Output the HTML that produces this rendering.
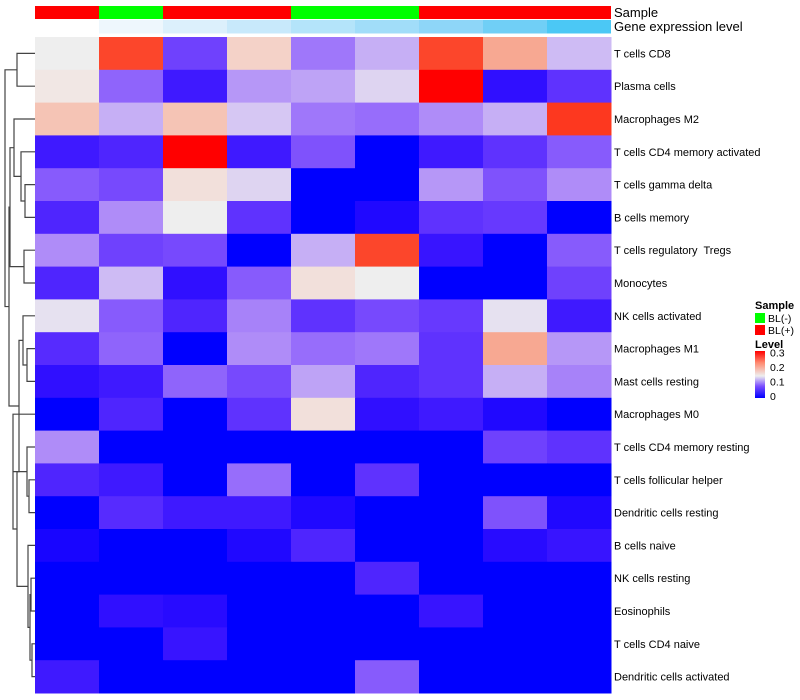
<!DOCTYPE html>
<html><head><meta charset="utf-8"><style>
body{margin:0;background:#fff;}
svg{display:block;font-family:"Liberation Sans",sans-serif;}
text{white-space:pre;}
</style></head><body>
<svg id="chart" width="800" height="700"></svg>
<script>
const rowLabels=["T cells CD8","Plasma cells","Macrophages M2","T cells CD4 memory activated","T cells gamma delta","B cells memory","T cells regulatory  Tregs","Monocytes","NK cells activated","Macrophages M1","Mast cells resting","Macrophages M0","T cells CD4 memory resting","T cells follicular helper","Dendritic cells resting","B cells naive","NK cells resting","Eosinophils","T cells CD4 naive","Dendritic cells activated"];
const sampleGroups=["BL(+)","BL(-)","BL(+)","BL(+)","BL(-)","BL(-)","BL(+)","BL(+)","BL(+)"];
const geneLevelColors=["#ffffff","#eef7fd","#dcf0fc","#c8e9fb","#b4e4fa","#a1ddf9","#8ed6f8","#70cff6","#4bc8f5"];
const values=[
[.15,.27,.07,.17,.10,.125,.27,.20,.13],
[.155,.09,.04,.115,.12,.14,.32,.03,.06],
[.18,.125,.18,.135,.10,.095,.11,.125,.28],
[.04,.05,.32,.04,.08,0,.04,.06,.085],
[.085,.075,.16,.14,0,0,.115,.08,.11],
[.05,.11,.15,.06,0,.02,.06,.065,0],
[.11,.07,.075,0,.125,.27,.035,0,.085],
[.05,.13,.03,.085,.16,.15,0,0,.07],
[.145,.085,.05,.105,.06,.075,.065,.145,.04],
[.055,.09,0,.11,.095,.10,.06,.20,.115],
[.03,.04,.09,.075,.12,.05,.06,.125,.105],
[0,.05,0,.06,.16,.03,.04,.02,0],
[.11,0,0,0,0,0,0,.07,.06],
[.05,.04,0,.095,0,.06,0,0,0],
[0,.055,.04,.04,.02,0,0,.08,.02],
[.015,0,0,.02,.05,0,0,.025,.035],
[0,0,0,0,0,.05,0,0,0],
[0,.03,.025,0,0,0,.035,0,0],
[0,0,.035,0,0,0,0,0,0],
[.04,0,0,0,0,.085,0,0,0]];
const NS="http://www.w3.org/2000/svg";
const svg=document.getElementById('chart');
const X0=35,CW=64,Y0=37,RH=32.8,NC=9,NR=20;
const xPos=c=>X0+c*CW, yPos=r=>Y0+r*RH;
function color(v){const mid=0.15,max=0.32;let r,g,b;
 if(v<=mid){const t=v/mid;r=238*t;g=238*Math.pow(t,1.7);b=255-17*Math.pow(t,3);}
 else{const s=Math.min(1,(v-mid)/(max-mid));r=238+17*Math.pow(s,0.5);g=238*(1-s);b=238*Math.pow(1-s,1.4);}
 return `rgb(${Math.round(r)},${Math.round(g)},${Math.round(b)})`;}
function el(t,a){const e=document.createElementNS(NS,t);for(const k in a)e.setAttribute(k,a[k]);svg.appendChild(e);return e;}
const sampleColor={"BL(-)":"#00ff00","BL(+)":"#ff0000"};
sampleGroups.forEach((g,c)=>{
 const r=el('rect',{x:xPos(c),y:6,width:CW,height:13,fill:sampleColor[g]});
 
 
 const r2=el('rect',{x:xPos(c),y:20,width:CW,height:13.5,fill:geneLevelColors[c]});
 
 
});
values.forEach((row,r)=>row.forEach((v,c)=>{
 const rc=el('rect',{x:xPos(c),y:yPos(r),width:CW+0.5,height:RH+0.5,fill:color(v)});
 
 
}));
rowLabels.forEach((l,r)=>{
 const t=el('text',{x:614,y:yPos(r)+RH/2+4,'font-size':11,fill:'#000'});t.textContent=l;
 
 
});
[["Sample",17],["Gene expression level",31]].forEach(([s,y])=>{const t=el('text',{x:614,y:y,'font-size':13});t.textContent=s;
 
 });
const tree=[5,[17,0,1],[9,[10,[14,2,[21,3,[25,4,5]]],[24,6,7]],[19,[23,8,[27,9,10]],[13,11,[17,[27,12,[29,13,14]],[28,15,[30,[31,16,17],[32,18,19]]]]]]]];
function draw(n){if(typeof n==='number')return{x:35,y:yPos(n)+RH/2};
 const a=draw(n[1]),b=draw(n[2]),h=n[0];
 const p=el('path',{d:`M${a.x},${a.y}H${h}V${b.y}H${b.x}`,fill:'none',stroke:'#444','stroke-width':1.2});
 
 
 return{x:h,y:(a.y+b.y)/2};}
draw(tree);
const lg=[["Sample",755,309,11,'bold'],["BL(-)",768,322,10.5,'normal'],["BL(+)",768,334,10.5,'normal'],["Level",755,348,11,'bold']];
lg.forEach(([s,x,y,f,w])=>{const t=el('text',{x:x,y:y,'font-size':f,'font-weight':w});t.textContent=s;
 
 });
[["#00ff00",313],["#ff0000",325]].forEach(([c,y])=>{const r=el('rect',{x:755,y:y,width:10,height:10,fill:c});
 
 });
const defs=el('defs',{});defs.innerHTML='<linearGradient id="lg" x1="0" y1="1" x2="0" y2="0"><stop offset="0" stop-color="#0000ff"/><stop offset="0.25" stop-color="#7a4dff"/><stop offset="0.47" stop-color="#eeeeee"/><stop offset="0.75" stop-color="#ff8a70"/><stop offset="1" stop-color="#ff0000"/></linearGradient>';
const gb=el('rect',{x:755,y:351,width:10,height:47,fill:'url(#lg)'});


["0","0.1","0.2","0.3"].forEach((s,i)=>{const y=396-i*14.5;
 const t=el('text',{x:770,y:y+4,'font-size':10.5});t.textContent=s;
 
 });
</script>
</body></html>
